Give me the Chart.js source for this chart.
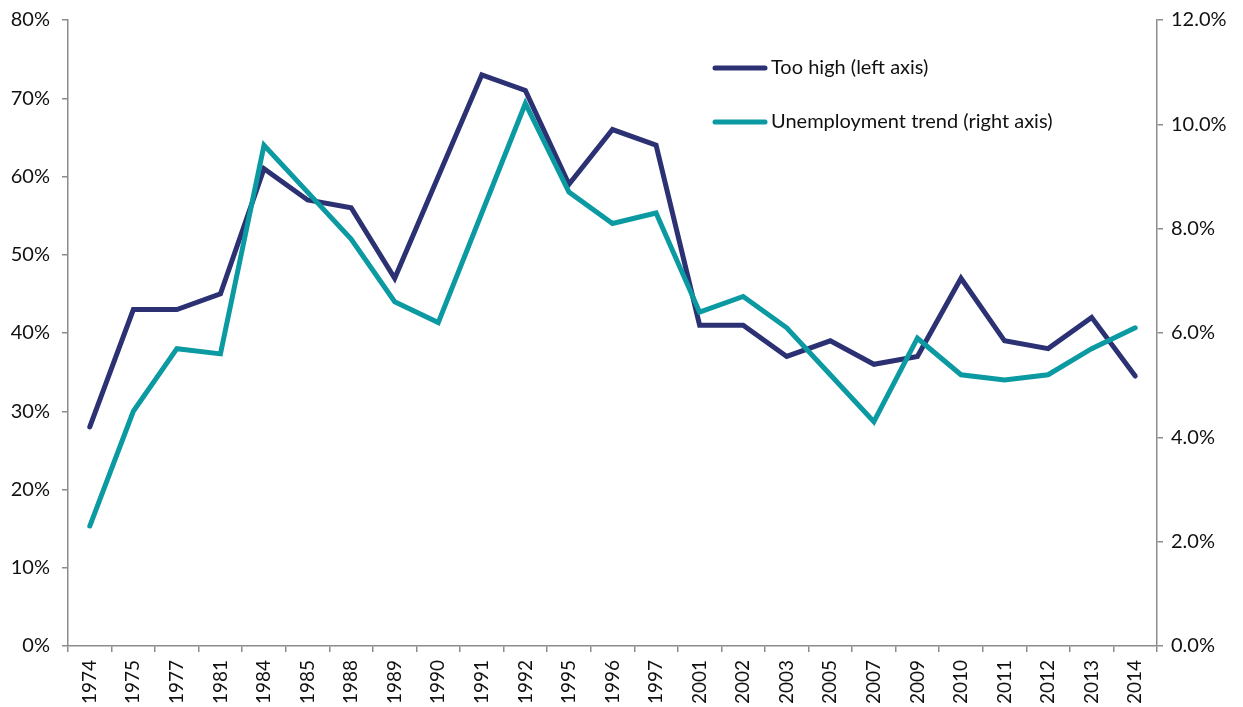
<!DOCTYPE html>
<html><head><meta charset="utf-8">
<script src="https://cdn.jsdelivr.net/npm/chart.js@4.4.0/dist/chart.umd.min.js"></script>
<style>html,body{margin:0;padding:0;background:#fff;overflow:hidden}#wrap{position:relative;width:1243px;height:707px}</style>
</head><body><div id="wrap"><canvas id="c" width="1243" height="707"></canvas></div>
<script>
const years = ['1974','1975','1977','1981','1984','1985','1988','1989','1990','1991','1992','1995','1996','1997','2001','2002','2003','2005','2007','2009','2010','2011','2012','2013','2014'];
const tooHigh = [28,43,43,45,61,57,56,47,60,73,71,59,66,64,41,41,37,39,36,37,47,39,38,42,34.5];
const unemploymentTrend = [2.3,4.5,5.7,5.6,9.6,8.7,7.8,6.6,6.2,8.3,10.4,8.7,8.1,8.3,6.4,6.7,6.1,5.2,4.3,5.9,5.2,5.1,5.2,5.7,6.1];
const seriesNames = ['Too high (left axis)','Unemployment trend (right axis)'];
const navy = '#2b3173';
const teal = '#0b9aa2';
const axisGrey = '#8c8c8c';
const FONT = 'Lato';

const legendPlugin = {
  id: 'insideLegend',
  afterDraw(chart) {
    const ctx = chart.ctx;
    const items = [[seriesNames[0], navy, 68], [seriesNames[1], teal, 122]];
    ctx.save();
    items.forEach(([t, col, y]) => {
      ctx.strokeStyle = col; ctx.lineWidth = 5; ctx.lineCap = 'round';
      ctx.beginPath(); ctx.moveTo(715, y); ctx.lineTo(765, y); ctx.stroke();
      ctx.fillStyle = '#111'; ctx.font = '20px ' + FONT; ctx.textBaseline = 'middle'; ctx.textAlign = 'left';
      ctx.fillText(t, 771, y);
    });
    ctx.restore();
  }
};

function fixV(w) { return s => { s.width = w; s.paddingTop = 0; s.paddingBottom = 0; }; }

new Chart(document.getElementById('c'), {
  type: 'line',
  data: {
    labels: years,
    datasets: [
      { label: seriesNames[0], data: tooHigh, yAxisID: 'y', borderColor: navy, borderWidth: 5, pointRadius: 0, tension: 0, borderJoinStyle: 'miter', borderCapStyle: 'round', order: 1 },
      { label: seriesNames[1], data: unemploymentTrend, yAxisID: 'y1', borderColor: teal, borderWidth: 5, pointRadius: 0, tension: 0, borderJoinStyle: 'miter', borderCapStyle: 'round', order: 0 }
    ]
  },
  options: {
    responsive: false, animation: false, devicePixelRatio: 1,
    layout: { padding: { top: 20, left: 0, right: 0, bottom: 0 } },
    plugins: { legend: { display: false }, tooltip: { enabled: false } },
    scales: {
      x: {
        offset: true,
        grid: { offset: true, drawOnChartArea: false, drawTicks: true, tickLength: 6, color: axisGrey, lineWidth: 1.5 },
        border: { color: axisGrey, width: 1.5 },
        ticks: { minRotation: 90, maxRotation: 90, autoSkip: false, padding: 8, color: '#111', font: { family: FONT, size: 19 } },
        afterFit(s) { s.height = 61; s.paddingLeft = 0; s.paddingRight = 0; }
      },
      y: {
        position: 'left', min: 0, max: 80,
        grid: { drawOnChartArea: false, tickLength: 6, color: axisGrey, lineWidth: 1.5 },
        border: { color: axisGrey, width: 1.5 },
        ticks: { stepSize: 10, padding: 12, color: '#111', font: { family: FONT, size: 20 }, callback: v => v + '%' },
        afterFit: fixV(68)
      },
      y1: {
        position: 'right', min: 0, max: 12,
        grid: { drawOnChartArea: false, tickLength: 6, color: axisGrey, lineWidth: 1.5 },
        border: { color: axisGrey, width: 1.5 },
        ticks: { stepSize: 2, padding: 8, color: '#111', font: { family: FONT, size: 20 }, callback: v => v.toFixed(1) + '%' },
        afterFit: fixV(86)
      }
    }
  },
  plugins: [legendPlugin]
});
</script></body></html>
